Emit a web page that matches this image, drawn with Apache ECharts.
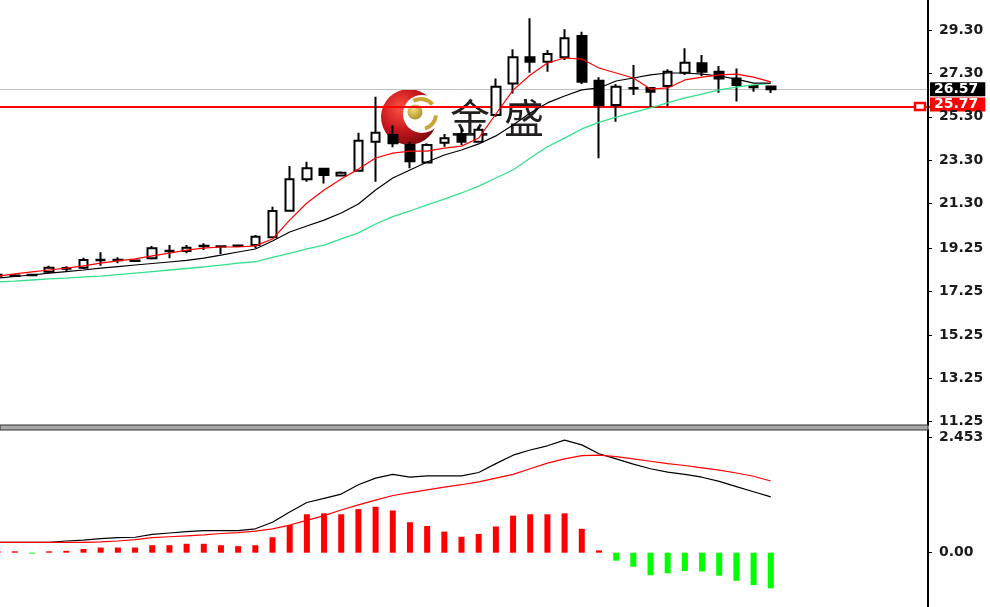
<!DOCTYPE html>
<html><head><meta charset="utf-8">
<script src="https://cdn.jsdelivr.net/npm/echarts@6/dist/echarts.min.js"></script>
<style>html,body{margin:0;padding:0;background:#fff;overflow:hidden;width:990px;height:607px;position:relative}#c{position:absolute;left:-11px;top:0;width:1001px;height:607px}</style>
</head><body><div id="c"></div>
<script>
// ---- data ----
const categories = ['1','2','3','4','5','6','7','8','9','10','11','12','13','14','15','16','17','18','19','20','21','22','23','24','25','26','27','28','29','30','31','32','33','34','35','36','37','38','39','40','41','42','43','44','45','46'];
const opens  = [17.98,17.97,18.02,18.16,18.30,18.35,18.69,18.69,18.68,18.78,19.11,19.12,19.34,19.34,19.35,19.39,19.75,20.97,22.42,22.91,22.59,22.82,24.15,24.46,24.00,23.20,24.11,24.48,24.15,25.38,26.84,28.04,27.84,28.04,29.02,26.96,25.84,26.60,26.63,26.72,27.33,27.77,27.38,27.07,26.72,26.70];
const closes = [18.02,17.99,18.00,18.35,18.33,18.70,18.71,18.71,18.66,19.24,19.13,19.27,19.36,19.32,19.37,19.77,20.96,22.42,22.93,22.62,22.72,24.20,24.56,24.08,23.25,24.00,24.31,24.15,24.70,26.69,28.04,27.84,28.19,28.92,26.92,25.84,26.69,26.63,26.46,27.38,27.79,27.38,27.07,26.77,26.66,26.57];
const lows   = [17.93,17.94,17.98,18.10,18.16,18.29,18.44,18.55,18.62,18.73,18.78,19.01,19.16,18.98,19.33,19.24,19.70,20.93,22.31,22.23,22.55,22.77,22.31,23.90,22.93,23.16,23.92,24.00,24.10,25.30,26.38,27.33,27.38,27.92,26.81,23.39,25.07,26.30,25.74,25.80,27.23,27.18,26.41,26.00,26.46,26.40];
const highs  = [18.06,18.04,18.04,18.44,18.41,18.81,19.06,18.83,18.73,19.35,19.39,19.39,19.47,19.37,19.40,19.85,21.16,23.03,23.23,22.93,22.78,24.57,26.22,24.90,24.15,24.08,24.51,24.75,24.85,27.07,28.41,29.84,28.38,29.33,29.22,27.12,26.81,27.69,26.65,27.49,28.46,28.15,27.64,27.53,26.74,26.71];
const maFast = [17.96,18.06,18.15,18.24,18.33,18.43,18.56,18.66,18.75,18.89,19.02,19.16,19.25,19.30,19.30,19.35,19.67,20.54,21.33,21.93,22.43,22.89,23.40,23.63,23.72,23.72,23.86,23.95,24.32,25.43,26.53,27.23,27.78,28.01,27.96,27.55,27.32,27.09,26.58,26.63,27.00,27.13,27.23,27.27,27.13,26.91];
const maMid  = [17.87,17.94,18.01,18.10,18.17,18.24,18.33,18.40,18.47,18.54,18.61,18.68,18.79,18.93,19.07,19.21,19.58,19.99,20.27,20.54,20.87,21.28,21.93,22.48,22.85,23.22,23.54,23.77,24.05,24.42,24.92,25.48,25.94,26.26,26.54,26.63,26.95,27.09,27.23,27.32,27.32,27.27,27.18,27.04,26.85,26.85];
const maSlow = [17.69,17.73,17.78,17.83,17.87,17.92,17.96,18.03,18.10,18.17,18.24,18.31,18.38,18.47,18.56,18.62,18.82,19.01,19.21,19.39,19.67,19.95,20.36,20.70,20.96,21.24,21.51,21.79,22.11,22.48,22.85,23.40,23.92,24.32,24.74,25.04,25.29,25.50,25.71,25.94,26.17,26.35,26.54,26.67,26.77,26.84];
const macdHist   = [0.03,0.03,-0.02,0.03,0.04,0.08,0.11,0.11,0.11,0.16,0.16,0.19,0.19,0.16,0.14,0.16,0.33,0.59,0.82,0.84,0.82,0.93,0.98,0.90,0.65,0.57,0.45,0.34,0.40,0.56,0.79,0.82,0.82,0.84,0.51,0.05,-0.17,-0.30,-0.48,-0.44,-0.39,-0.40,-0.49,-0.60,-0.69,-0.76];
const macdMain   = [0.22,0.22,0.22,0.22,0.25,0.27,0.30,0.32,0.33,0.39,0.42,0.45,0.47,0.47,0.47,0.51,0.65,0.87,1.07,1.16,1.25,1.45,1.59,1.67,1.61,1.64,1.64,1.64,1.71,1.90,2.08,2.19,2.28,2.40,2.30,2.11,2.00,1.89,1.79,1.72,1.67,1.61,1.52,1.41,1.30,1.19];
const macdSignal = [0.22,0.22,0.22,0.22,0.22,0.22,0.23,0.25,0.28,0.32,0.34,0.36,0.38,0.41,0.43,0.46,0.51,0.59,0.69,0.79,0.91,1.02,1.12,1.22,1.28,1.34,1.40,1.45,1.51,1.59,1.67,1.79,1.91,2.00,2.07,2.08,2.05,2.00,1.95,1.90,1.86,1.81,1.76,1.70,1.63,1.53];
const priceTicks = [11.25,13.25,15.25,17.25,19.25,21.30,23.30,25.30,27.30,29.30];
const macdTicks  = [0, 2.453];
const bidPrice = 26.57;
const levelPrice = 25.77;
const emptySlots = ['e1','e2','e3','e4','e5','e6','e7','e8','e9'];

// ---- chart ----
const SX = 11; // the chart div starts 11px left of the page
const xData = categories.concat(emptySlots);
const candleData = categories.map((c, i) => [opens[i], closes[i], lows[i], highs[i]]);
const labelFont = { fontFamily: 'DejaVu Sans', fontWeight: 'bold', fontSize: 14, color: '#1b1b1b' };
const boxLabel = { show: true, position: 'end', distance: -4, color: '#fff', fontFamily: 'DejaVu Sans', fontWeight: 'bold', fontSize: 14, padding: [0, 7, 0, 4], lineHeight: 14 };

const chart = echarts.init(document.getElementById('c'), null, { renderer: 'canvas' });
chart.setOption({
  animation: false,
  backgroundColor: '#ffffff',
  grid: [
    { left: 0, right: 56, top: 0, height: 425 },
    { left: 0, right: 56, top: 430, bottom: 0 }
  ],
  xAxis: [
    { type: 'category', gridIndex: 0, data: xData, show: false },
    { type: 'category', gridIndex: 1, data: xData, show: false }
  ],
  yAxis: [
    { type: 'value', gridIndex: 0, position: 'right', offset: -6, min: 11.098, max: 30.683, z: 10,
      splitLine: { show: false },
      axisLine: { show: true, lineStyle: { color: '#000', width: 2 } },
      axisTick: { show: true, length: 4, customValues: priceTicks, lineStyle: { color: '#000' } },
      axisLabel: Object.assign({ margin: 11, customValues: priceTicks, formatter: v => v.toFixed(2) }, labelFont) },
    { type: 'value', gridIndex: 1, position: 'right', offset: -6, min: -1.158, max: 2.617, z: 10,
      splitLine: { show: false },
      axisLine: { show: true, lineStyle: { color: '#000', width: 2 } },
      axisTick: { show: true, length: 4, customValues: macdTicks, lineStyle: { color: '#000' } },
      axisLabel: Object.assign({ margin: 11, customValues: macdTicks, formatter: v => (v === 0 ? '0.00' : v.toFixed(3)) }, labelFont) }
  ],
  series: [
    { type: 'line', name: 'levels', xAxisIndex: 0, yAxisIndex: 0, data: [], z: 8,
      markLine: { silent: true, symbol: ['none', 'none'], animation: false,
        data: [
          { yAxis: bidPrice, lineStyle: { color: '#c0c0c0', width: 1, type: 'solid' },
            label: Object.assign({}, boxLabel, { formatter: bidPrice.toFixed(2), backgroundColor: '#000' }) },
          { yAxis: levelPrice, lineStyle: { color: '#ff0000', width: 2, type: 'solid' },
            label: Object.assign({}, boxLabel, { offset: [0, -2], formatter: levelPrice.toFixed(2), backgroundColor: '#ff0000' }) }
        ] } },
    { type: 'candlestick', name: 'price', xAxisIndex: 0, yAxisIndex: 0, data: candleData, barWidth: 9, z: 6,
      itemStyle: { color: '#ffffff', color0: '#000000', borderColor: '#000000', borderColor0: '#000000', borderWidth: 2 } },
    { type: 'line', name: 'MA slow', xAxisIndex: 0, yAxisIndex: 0, data: maSlow, symbol: 'none', z: 7, lineStyle: { color: '#33e08c', width: 1.3 } },
    { type: 'line', name: 'MA mid', xAxisIndex: 0, yAxisIndex: 0, data: maMid, symbol: 'none', z: 7, lineStyle: { color: '#000000', width: 1.2 } },
    { type: 'line', name: 'MA fast', xAxisIndex: 0, yAxisIndex: 0, data: maFast, symbol: 'none', z: 7, lineStyle: { color: '#ff0000', width: 1.2 } },
    { type: 'bar', name: 'hist', xAxisIndex: 1, yAxisIndex: 1, data: macdHist, barWidth: 6, z: 6,
      itemStyle: { color: p => (p.value >= 0 ? '#ff0000' : '#00ff00') } },
    { type: 'line', name: 'MACD', xAxisIndex: 1, yAxisIndex: 1, data: macdMain, symbol: 'none', z: 7, lineStyle: { color: '#000', width: 1.2 } },
    { type: 'line', name: 'Signal', xAxisIndex: 1, yAxisIndex: 1, data: macdSignal, symbol: 'none', z: 7, lineStyle: { color: '#ff0000', width: 1.2 } }
  ]
});

const yLevel = chart.convertToPixel({ yAxisIndex: 0 }, levelPrice);
chart.setOption({
  graphic: [
    { id: 'logoRed', type: 'circle', z: 1, shape: { cx: 409 + SX, cy: 117, r: 28 },
      style: { fill: { type: 'radial', x: 0.35, y: 0.35, r: 0.8, colorStops: [
        { offset: 0, color: '#ff5040' }, { offset: 0.5, color: '#c4161c' }, { offset: 1, color: '#6a0808' } ] } } },
    { id: 'logoWhite', type: 'circle', z: 2, shape: { cx: 422 + SX, cy: 114, r: 19 }, style: { fill: '#ffffff' } },
    { id: 'logoArc1', type: 'arc', z: 3, shape: { cx: 421 + SX, cy: 114, r: 15, startAngle: -2.1, endAngle: -0.7 }, style: { stroke: '#c9a437', lineWidth: 4, fill: null } },
    { id: 'logoArc2', type: 'arc', z: 3, shape: { cx: 421 + SX, cy: 114, r: 15, startAngle: 0.1, endAngle: 1.3 }, style: { stroke: '#c9a437', lineWidth: 4, fill: null } },
    { id: 'logoGold', type: 'circle', z: 3, shape: { cx: 415 + SX, cy: 112, r: 7.5 },
      style: { fill: { type: 'radial', x: 0.4, y: 0.35, r: 0.8, colorStops: [
        { offset: 0, color: '#f3dc7a' }, { offset: 1, color: '#a3801e' } ] } } },
    { id: 'logoText1', type: 'text', z: 3, x: 470 + SX, y: 118, style: { text: '金', fontFamily: 'Noto Sans CJK SC', fontSize: 40, fill: '#231f20', align: 'center', verticalAlign: 'middle' } },
    { id: 'logoText2', type: 'text', z: 3, x: 524 + SX, y: 118, style: { text: '盛', fontFamily: 'Noto Sans CJK SC', fontSize: 40, fill: '#231f20', align: 'center', verticalAlign: 'middle' } },
    { id: 'sep', type: 'rect', z: 50, shape: { x: SX, y: 425, width: 928, height: 5 }, style: { fill: '#a9a9a9', stroke: '#333', lineWidth: 1 } },
    { id: 'levelMark', type: 'rect', z: 60, shape: { x: 915 + SX, y: yLevel - 3.5, width: 10, height: 7 }, style: { fill: '#ffffff', stroke: '#ff0000', lineWidth: 2.5 } }
  ]
});
</script>
</body></html>
